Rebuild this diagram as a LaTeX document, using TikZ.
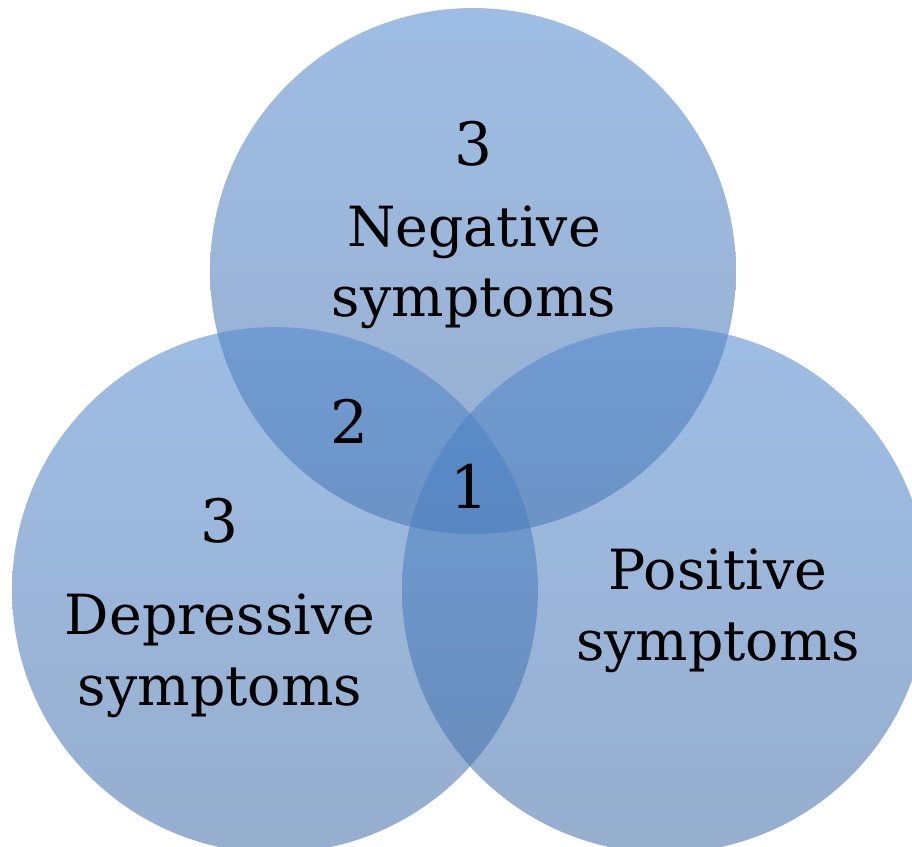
\documentclass[tikz,border=0pt]{standalone}
\usepackage{fontspec}
\setmainfont{DejaVu Serif}
\definecolor{vennTop}{RGB}{79,135,206}
\definecolor{vennBot}{RGB}{64,108,166}
\tikzset{venn/.style={circle, minimum size=10.52cm, inner sep=0pt, top color=vennTop, bottom color=vennBot, fill opacity=0.55}}
\tikzset{num/.style={font=\fontsize{34}{40}\selectfont, inner sep=0pt, anchor=base}}
\tikzset{lbl/.style={font=\fontsize{31.5}{40}\selectfont, align=center, inner sep=0pt, anchor=base}}

\begin{document}
\begin{tikzpicture}[x=0.02cm, y=-0.02cm]
    \useasboundingbox (0,0) rectangle (912,847);
    \clip (0,0) rectangle (912,847);

    % the three sets
    \node[venn] (neg) at (473,271) {};
    \node[venn] (dep) at (275,590) {};
    \node[venn] (pos) at (665,590) {};

    % counts and names (base = last line)
    \node[num] (negN) at (473,166) {3};
    \node[lbl] (negL) at (474,317) {Negative\\symptoms};
    \node[num] (depN) at (219,542) {3};
    \node[lbl] (depL) at (220,705) {Depressive\\symptoms};
    \node[lbl] (posL) at (718,660) {Positive\\symptoms};
    \node[num] (negdep) at (349,443) {2};
    \node[num] (all) at (469,508) {1};
\end{tikzpicture}
\end{document}
